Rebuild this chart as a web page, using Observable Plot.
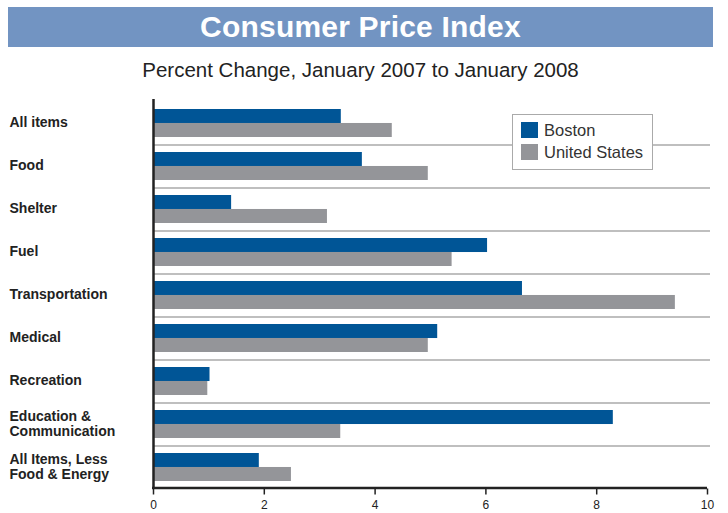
<!DOCTYPE html>
<html>
<head>
<meta charset="utf-8">
<script src="https://cdn.jsdelivr.net/npm/d3@7"></script>
<script src="https://cdn.jsdelivr.net/npm/@observablehq/plot@0.6"></script>
<style>
  html, body { margin: 0; padding: 0; background: #fff; }
  #wrap { position: relative; width: 728px; height: 513px; overflow: hidden; font-family: "Liberation Sans", Arial, sans-serif; }
  #banner { position: absolute; left: 8px; top: 7px; width: 705px; height: 40px; background: #7294c2;
    color: #fff; font-weight: bold; font-size: 30px; line-height: 40px; text-align: center; letter-spacing: 0.2px; }
  #subtitle { position: absolute; left: 0; top: 47px; width: 721px; height: 46px; line-height: 46px;
    text-align: center; font-size: 20.5px; color: #222; }
  #chart { position: absolute; left: 0; top: 93px; }
  #legend { position: absolute; left: 512px; top: 114px; width: 139px; height: 54px; background: #fff;
    border: 1.5px solid #aaa; font-size: 16.5px; color: #333; }
  #legend .row { position: absolute; left: 8px; height: 16px; line-height: 16px; }
  #legend .sw { display: inline-block; width: 17px; height: 16px; vertical-align: top; margin-right: 6px; }
</style>
</head>
<body>
<div id="wrap">
  <div id="banner">Consumer Price Index</div>
  <div id="subtitle">Percent Change, January 2007 to January 2008</div>
  <div id="chart"></div>
  <div id="legend"></div>
</div>
<script>
const categories = ["All items", "Food", "Shelter", "Fuel", "Transportation", "Medical", "Recreation", "Education &\nCommunication", "All Items, Less\nFood & Energy"];
const bostonValues = [3.39, 3.77, 1.41, 6.03, 6.66, 5.13, 1.02, 8.30, 1.91];
const usValues = [4.31, 4.96, 3.14, 5.39, 9.42, 4.96, 0.98, 3.38, 2.49];
const xTicks = [0, 2, 4, 6, 8, 10];
const seriesNames = ["Boston", "United States"];
const seriesColors = ["#005596", "#949599"];

const rows = categories.map((c, i) => ({category: c, boston: bostonValues[i], us: usValues[i]}));

const width = 728, height = 420;
const marginTop = 8.5, marginBottom = 24.5, marginLeft = 153, marginRight = 21;
const padInner = 0.35, padOuter = 0.175;
const step = (height - marginTop - marginBottom) / (categories.length - padInner + 2 * padOuter);
const bw = step * (1 - padInner);

const chart = Plot.plot({
  width, height, marginTop, marginBottom, marginLeft, marginRight,
  style: {fontFamily: "'Liberation Sans', Arial, sans-serif", color: "#222", background: "#fff"},
  x: {domain: [0, 10], axis: null, label: null},
  y: {domain: categories, type: "band", paddingInner: padInner, paddingOuter: padOuter, axis: null, label: null},
  marks: [
    Plot.ruleY(categories.slice(1), {y: d => d, dy: -step / 2, stroke: "#aaa", strokeWidth: 1.5, insetRight: -3}),
    Plot.barX(rows, {x: "boston", y: "category", fill: seriesColors[0], insetBottom: bw / 2}),
    Plot.barX(rows, {x: "us", y: "category", fill: seriesColors[1], insetTop: bw / 2}),
    Plot.ruleX([0], {stroke: "#222", strokeWidth: 2.5, insetTop: -2.5}),
    Plot.ruleY(categories.slice(-1), {y: d => d, dy: step / 2 - 1, stroke: "#222", strokeWidth: 2.5, insetLeft: -1}),
    Plot.axisX({ticks: xTicks, tickSize: 6, tickPadding: 5, fontSize: 12, stroke: "#222", strokeWidth: 1.5, tickFormat: d => String(d), label: null}),
    Plot.axisY({tickSize: 0, tickPadding: 0, textAnchor: "start", dx: -(marginLeft - 9), dy: -1, fontSize: 14, fontWeight: "bold", fill: "#222", lineHeight: 1.1, label: null})
  ]
});
document.getElementById("chart").appendChild(chart);

const legend = document.getElementById("legend");
seriesNames.forEach((name, i) => {
  const row = document.createElement("div");
  row.className = "row";
  row.style.top = (7 + i * 22) + "px";
  row.innerHTML = `<span class="sw" style="background:${seriesColors[i]}"></span>${name}`;
  legend.appendChild(row);
});
</script>
</body>
</html>
